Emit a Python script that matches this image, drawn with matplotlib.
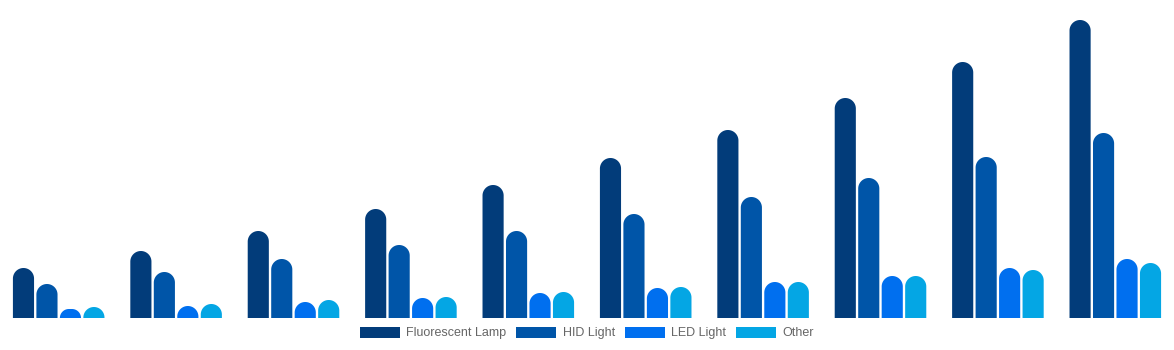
import numpy as np
import matplotlib
matplotlib.use("Agg")
import matplotlib.pyplot as plt
from matplotlib.patches import Polygon, Patch

plt.rcParams['font.family'] = ['Liberation Sans', 'DejaVu Sans']

groups = list(range(10))
fluorescent = [50, 67, 87, 109, 133, 160, 188, 220, 256, 298]
hid = [34, 46, 59, 73, 87, 104, 121, 140, 161, 185]
led = [9, 12, 16, 20, 25, 30, 36, 42, 50, 59]
other = [11, 14, 18, 21, 26, 31, 36, 42, 48, 55]

series = [
    ("Fluorescent Lamp", fluorescent, "#023c7a"),
    ("HID Light", hid, "#0055a8"),
    ("LED Light", led, "#006fef"),
    ("Other", other, "#04a6e4"),
]

W, H = 1174, 350
fig = plt.figure(figsize=(W / 100, H / 100), dpi=100)
ax = fig.add_axes([0, (H - 318) / H, 1, 318 / H])
ax.set_xlim(-0.5, 9.5)
ax.set_ylim(0, 318)
ax.axis("off")

width = 0.18
step = 0.2
x = np.arange(len(groups))

# pixels per data unit, so the rounded corners come out circular
px_x = ax.transData.transform((1, 0))[0] - ax.transData.transform((0, 0))[0]
px_y = ax.transData.transform((0, 1))[1] - ax.transData.transform((0, 0))[1]
r_px_max = width * px_x / 2


def rounded_top(x0, w, h):
    r_px = min(r_px_max, h * px_y)
    rx, ry = r_px / px_x, r_px / px_y
    t1 = np.linspace(np.pi, np.pi / 2, 20)
    t2 = np.linspace(np.pi / 2, 0, 20)
    left = np.column_stack([x0 + rx + rx * np.cos(t1), h - ry + ry * np.sin(t1)])
    right = np.column_stack([x0 + w - rx + rx * np.cos(t2), h - ry + ry * np.sin(t2)])
    return np.vstack([[x0, 0], left, right, [x0 + w, 0]])


handles = []
for i, (name, vals, color) in enumerate(series):
    pos = x + (i - 1.5) * step
    bars = ax.bar(pos, vals, width=width, color=color, linewidth=0)
    for rect in bars:
        rect.set_visible(False)
        pts = rounded_top(rect.get_x(), rect.get_width(), rect.get_height())
        ax.add_patch(Polygon(pts, closed=True, facecolor=color, edgecolor="none"))
    handles.append(Patch(facecolor=color, edgecolor="none", label=name))

fig.legend(handles=handles, loc="center", bbox_to_anchor=(0.5, 17 / H),
           ncol=4, frameon=False, fontsize=9, labelcolor="#666666",
           handlelength=3.2, handleheight=1.0, handletextpad=0.5,
           columnspacing=0.8)

fig.savefig("out.png", dpi=100)
